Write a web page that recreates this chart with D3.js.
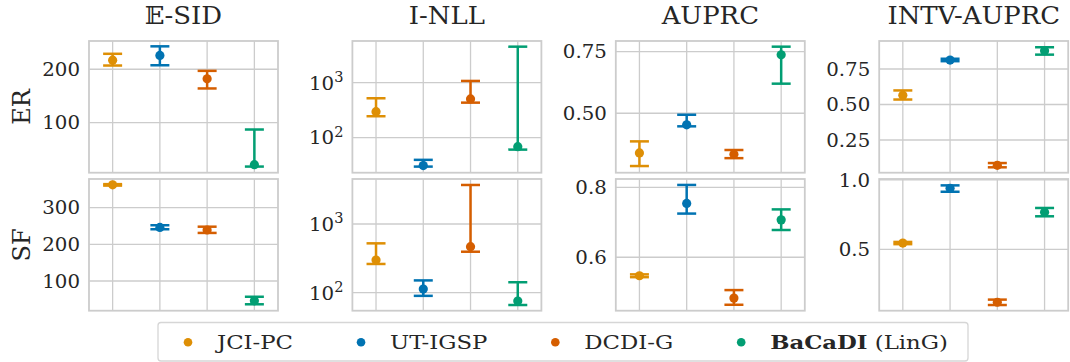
<!DOCTYPE html>
<html>
<head>
<meta charset="utf-8">
<script src="https://cdn.jsdelivr.net/npm/d3@7.9.0/dist/d3.min.js"></script>
<style>
  body { margin: 0; background: #fff; }
  svg text { font-family: "DejaVu Serif", serif; fill: #262626; }
</style>
</head>
<body>
<svg id="chart" width="1070" height="362"></svg>
<script>
// methods and metrics
const methods = ['JCI-PC', 'UT-IGSP', 'DCDI-G', 'BaCaDI'];
const colors = ['#de8f05', '#0173b2', '#d55e00', '#029e73'];
const metrics = ['𝔼-SID', 'I-NLL', 'AUPRC', 'INTV-AUPRC'];
const graphs = ['ER', 'SF'];

// [mean, lower, upper] for each method
const esidER = [[217, 207, 229], [226, 207.5, 243], [182, 164, 197], [21, 17.5, 87]];
const inllER = [[297, 245, 520], [31, 29.7, 39.4], [506, 433, 1075], [68.5, 60.5, 4520]];
const auprcER = [[0.339, 0.286, 0.386], [0.453, 0.447, 0.494], [0.334, 0.318, 0.351], [0.737, 0.620, 0.770]];
const intvER = [[0.566, 0.535, 0.599], [0.813, 0.805, 0.822], [0.072, 0.058, 0.088], [0.879, 0.851, 0.903]];

const esidSF = [[362, 360, 364], [246, 241, 252], [239, 231, 248], [46, 36.5, 57]];
const inllSF = [[299, 262, 523], [113, 90, 151], [468, 395, 3700], [75.7, 66.2, 142]];
const auprcSF = [[0.547, 0.543, 0.551], [0.754, 0.725, 0.807], [0.483, 0.464, 0.506], [0.707, 0.678, 0.737]];
const intvSF = [[0.545, 0.537, 0.553], [0.94, 0.915, 0.961], [0.118, 0.098, 0.137], [0.767, 0.738, 0.798]];

// y limits
const esidERLim = [6, 253], inllERLim = [23, 5730], auprcERLim = [0.259, 0.793], intvERLim = [0.02, 0.947];
const esidSFLim = [19, 378], inllSFLim = [54.7, 4520], auprcSFLim = [0.447, 0.824], intvSFLim = [0.057, 1.007];

// ticks and their labels (log panels: exponent only)
const esidERTicks = [100, 200], esidERLabels = ['100', '200'];
const inllERTicks = [100, 1000], inllERLabels = ['2', '3'];
const auprcERTicks = [0.5, 0.75], auprcERLabels = ['0.50', '0.75'];
const intvERTicks = [0.25, 0.5, 0.75], intvERLabels = ['0.25', '0.50', '0.75'];
const esidSFTicks = [100, 200, 300], esidSFLabels = ['100', '200', '300'];
const inllSFTicks = [100, 1000], inllSFLabels = ['2', '3'];
const auprcSFTicks = [0.6, 0.8], auprcSFLabels = ['0.6', '0.8'];
const intvSFTicks = [0.5, 1.0], intvSFLabels = ['0.5', '1.0'];

const panels = [
  [
    { data: esidER, lim: esidERLim, ticks: esidERTicks, labels: esidERLabels, log: false },
    { data: inllER, lim: inllERLim, ticks: inllERTicks, labels: inllERLabels, log: true },
    { data: auprcER, lim: auprcERLim, ticks: auprcERTicks, labels: auprcERLabels, log: false },
    { data: intvER, lim: intvERLim, ticks: intvERTicks, labels: intvERLabels, log: false }
  ],
  [
    { data: esidSF, lim: esidSFLim, ticks: esidSFTicks, labels: esidSFLabels, log: false },
    { data: inllSF, lim: inllSFLim, ticks: inllSFTicks, labels: inllSFLabels, log: true },
    { data: auprcSF, lim: auprcSFLim, ticks: auprcSFTicks, labels: auprcSFLabels, log: false },
    { data: intvSF, lim: intvSFLim, ticks: intvSFTicks, labels: intvSFLabels, log: false }
  ]
];

const svg = d3.select('#chart');

// layout
const left0 = 89, colStep = 263.4, pw = 189;
const rowTops = [41, 179], ph = 131.7;
const gridColor = '#cccccc';

// the original figure is a bit wider than tall, so text is stretched sideways
function place(sel, x, y, sx) {
  return sel.attr('transform', `translate(${x},${y}) scale(${sx},1)`);
}

// titles
metrics.forEach((m, c) => {
  const t = svg.append('text')
    .attr('text-anchor', 'middle')
    .style('font-size', '24px')
    .text(m);
  place(t, left0 + c * colStep + pw / 2, 23.5, 1.08);
});

// row labels
graphs.forEach((g, r) => {
  svg.append('text')
    .attr('transform', `translate(30,${rowTops[r] + ph / 2}) rotate(-90)`)
    .attr('text-anchor', 'middle')
    .style('font-size', '24px')
    .text(g);
});

panels.forEach((row, r) => {
  row.forEach((p, c) => {
    const g = svg.append('g')
      .attr('transform', `translate(${left0 + c * colStep},${rowTops[r]})`);

    const x = d3.scaleBand().domain(methods).range([0, pw]);
    const y = (p.log ? d3.scaleLog() : d3.scaleLinear()).domain(p.lim).range([ph, 0]);
    const cx = i => x(methods[i]) + x.bandwidth() / 2;

    // vertical grid
    g.selectAll('.vgrid')
      .data(methods)
      .join('line')
      .attr('x1', (d, i) => cx(i))
      .attr('x2', (d, i) => cx(i))
      .attr('y1', 0).attr('y2', ph)
      .attr('stroke', gridColor).attr('stroke-width', 1.3);

    // horizontal grid
    g.selectAll('.hgrid')
      .data(p.ticks)
      .join('line')
      .attr('x1', 0).attr('x2', pw)
      .attr('y1', d => y(d)).attr('y2', d => y(d))
      .attr('stroke', gridColor).attr('stroke-width', 1.3);

    // tick labels
    p.ticks.forEach((v, i) => {
      const t = g.append('text')
        .attr('dy', '0.36em')
        .attr('text-anchor', 'end')
        .style('font-size', '19px');
      if (p.log) {
        t.append('tspan').text('10');
        t.append('tspan').attr('dy', '-0.55em').style('font-size', '14px').text(p.labels[i]);
      } else {
        t.text(p.labels[i]);
      }
      place(t, -9, y(v), 1.04);
    });

    // frame
    g.append('rect')
      .attr('width', pw).attr('height', ph)
      .attr('fill', 'none')
      .attr('stroke', gridColor).attr('stroke-width', 1.8);

    // error bars
    p.data.forEach((d, i) => {
      const bar = g.append('g')
        .attr('fill', colors[i])
        .attr('stroke', colors[i])
        .attr('stroke-width', 2.5);
      bar.append('line')
        .attr('x1', cx(i)).attr('x2', cx(i))
        .attr('y1', y(d[1])).attr('y2', y(d[2]));
      bar.selectAll('.cap')
        .data([d[1], d[2]])
        .join('line')
        .attr('x1', cx(i) - 9.5).attr('x2', cx(i) + 9.5)
        .attr('y1', v => y(v)).attr('y2', v => y(v));
      bar.append('circle')
        .attr('cx', cx(i))
        .attr('cy', y(d[0]))
        .attr('r', 4.6)
        .attr('stroke', 'none');
    });
  });
});

// legend
const legend = svg.append('g');
legend.append('rect')
  .attr('x', 158).attr('y', 322.5)
  .attr('width', 810).attr('height', 38.5)
  .attr('rx', 3)
  .attr('fill', '#fff')
  .attr('stroke', '#d6d6d6').attr('stroke-width', 1.3);

const legendStretch = 1.2;
let lx = 188;
methods.forEach((m, i) => {
  legend.append('circle')
    .attr('cx', lx).attr('cy', 342.3).attr('r', 4.3)
    .attr('fill', colors[i]);
  const t = legend.append('text')
    .style('font-size', '19px');
  if (m === 'BaCaDI') {
    t.append('tspan').style('font-weight', 'bold').text('BaCaDI');
    t.append('tspan').text(' (LinG)');
  } else {
    t.text(m);
  }
  place(t, lx + 29, 348.5, legendStretch);
  lx += 29 + t.node().getComputedTextLength() * legendStretch + 68;
});
</script>
</body>
</html>
